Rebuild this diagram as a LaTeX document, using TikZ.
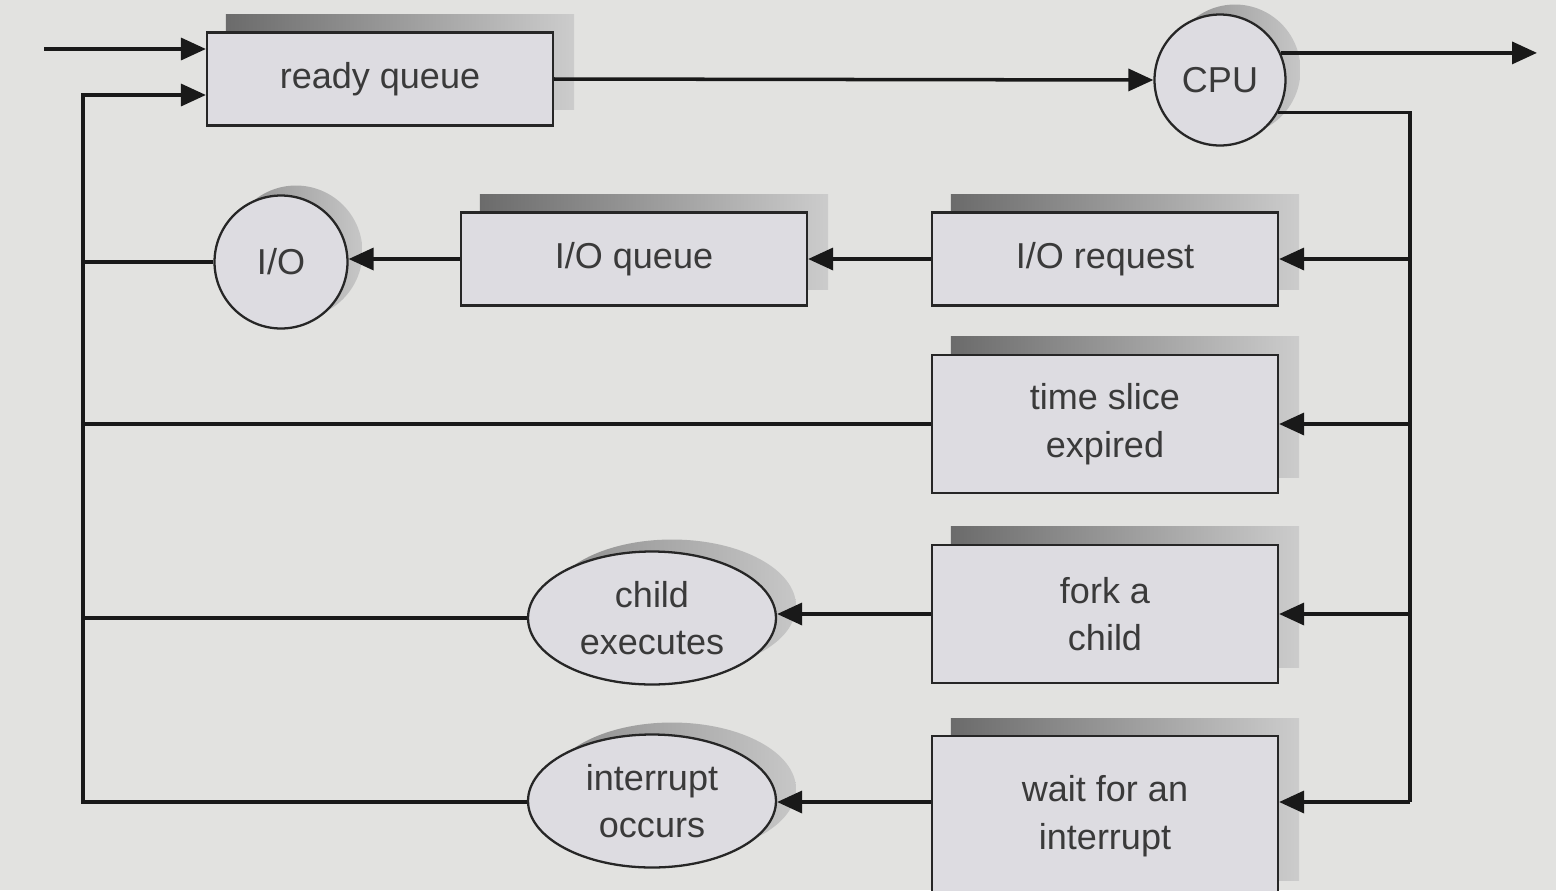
\documentclass[tikz,border=0pt]{standalone}
\usepackage{fontspec}
\setmainfont{Liberation Sans}
\usetikzlibrary{arrows.meta,shapes.geometric,backgrounds}
\definecolor{bgc}{HTML}{E2E2E0}
\definecolor{boxc}{HTML}{DDDCE1}
\definecolor{txtc}{HTML}{3A3A3A}
\begin{document}
\begin{tikzpicture}[x=0.02cm,y=-0.02cm,
  every node/.style={text=txtc,font=\fontsize{20.5}{27}\selectfont,align=center,inner sep=0pt},
  qbox/.style={draw=black!85,line width=1.3pt,fill=boxc,rectangle,minimum width=6.92cm,minimum height=1.86cm},
  tbox/.style={qbox,minimum height=2.76cm},
  srv/.style={draw=black!85,line width=1.3pt,fill=boxc,circle,minimum size=2.66cm},
  evt/.style={draw=black!85,line width=1.3pt,fill=boxc,ellipse,minimum width=4.96cm,minimum height=2.66cm},
  conn/.style={line width=2pt,black!90},
  arr/.style={conn,-{Triangle[length=0.5cm,width=0.44cm]}},
  shd/.style={left color=black!58,right color=black!20,shading angle=90}
]
\begin{scope}[on background layer]
\fill[bgc] (0,0) rectangle (1556,890);
\end{scope}
\useasboundingbox (0,0) rectangle (1556,890);

% nodes
\node[qbox] (rq) at (380,79) {ready queue};
\node[srv,minimum size=2.62cm] (cpu) at (1220,80) {CPU};
\node[qbox] (ioreq) at (1105,259) {I/O request};
\node[qbox] (ioq) at (634,259) {I/O queue};
\node[srv] (io) at (281,262) {I/O};
\node[tbox] (ts) at (1105,424) {time slice\\expired};
\node[tbox] (fork) at (1105,614) {fork a\\child};
\node[evt] (child) at (652,618) {child\\executes};
\node[qbox,minimum height=3.2cm,anchor=north] (wait) at (1105,735) {wait for an\\interrupt};
\node[evt] (intr) at (652,801) {interrupt\\occurs};

% shadows
\begin{scope}[on background layer]
\foreach \n in {rq,ioreq,ioq,ts,fork,wait}{
  \shade[shd] ([shift={(20,-17)}]\n.south west) rectangle ([shift={(20,-17)}]\n.north east);
}
\shade[left color=black!45,right color=black!22] ([shift={(15,-10)}]cpu.center) circle[radius=1.31cm];
\shade[left color=black!45,right color=black!22] ([shift={(15,-10)}]io.center) circle[radius=1.33cm];
\shade[left color=black!45,right color=black!22] ([shift={(20,-12)}]child.center) ellipse[x radius=2.48cm,y radius=1.33cm];
\shade[left color=black!45,right color=black!22] ([shift={(20,-12)}]intr.center) ellipse[x radius=2.48cm,y radius=1.33cm];
\end{scope}

% helper coordinates
\coordinate (in1) at (44,49);
\coordinate (out) at (1537,53);
\coordinate (Rtop) at (1410,112);
\coordinate (Rbot) at (1410,802);
\coordinate (Ltop) at (83,95);
\coordinate (Lbot) at (83,802);

% top flow
\draw[arr] (in1) -- (in1 -| rq.west);
\draw[arr] (rq.east) -- (cpu.west);
\draw[arr] (cpu.24) -- (cpu.24 -| out);
\draw[conn] (cpu.-29) -- (cpu.-29 -| Rtop) -- (Rbot);

% right trunk to boxes
\draw[arr] (ioreq.east -| Rtop) -- (ioreq.east);
\draw[arr] (ts.east -| Rtop) -- (ts.east);
\draw[arr] (fork.east -| Rtop) -- (fork.east);
\draw[arr] (Rbot) -- (Rbot -| wait.east);

% middle flows
\draw[arr] (ioreq.west) -- (ioq.east);
\draw[arr] (ioq.west) -- (ioq.west -| io.east);
\draw[arr] (fork.west) -- (fork.west -| child.east);
\draw[arr] (Rbot -| wait.west) -- (Rbot -| intr.east);

% left return lines
\draw[conn] (io.west) -- (io.west -| Ltop);
\draw[conn] (ts.west) -- (ts.west -| Ltop);
\draw[conn] (child.west) -- (child.west -| Ltop);
\draw[arr] (Lbot -| intr.west) -- (Lbot) -- (Ltop) -- (Ltop -| rq.west);
\end{tikzpicture}
\end{document}
